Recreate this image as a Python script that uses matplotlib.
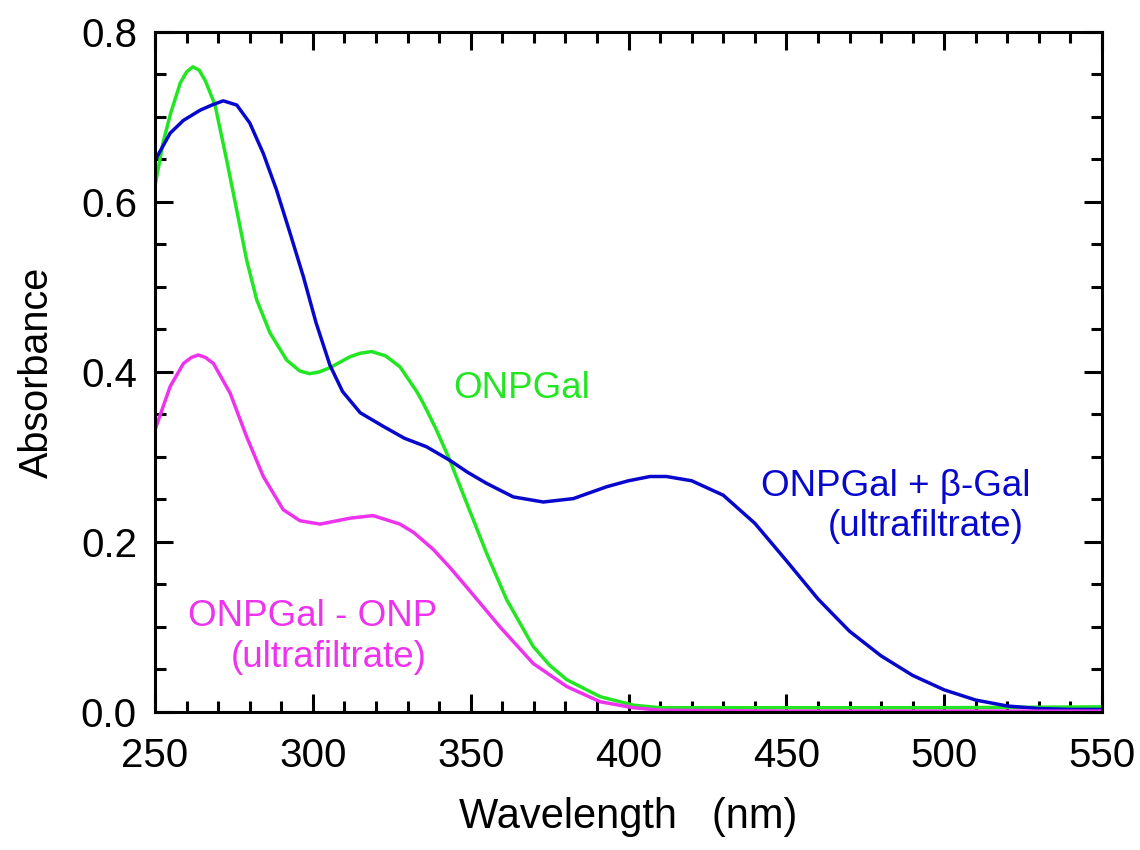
import numpy as np
import matplotlib
matplotlib.use("Agg")
import matplotlib.pyplot as plt
from matplotlib.ticker import MultipleLocator, FormatStrFormatter

plt.rcParams["font.family"] = ["Liberation Sans", "DejaVu Sans"]

# ONPGal
wl_green = [250, 252.6, 255, 258, 260, 262, 264, 266, 269, 272.7, 275.9, 279, 282.2,
            286.4, 291.7, 295.9, 299, 302, 305.4, 311.8, 315, 318.6, 323, 327.6, 332.9,
            335, 339, 343.4, 348.7, 355, 361.4, 369.8, 375, 380.4, 391, 401.5, 410,
            450, 500, 550]
abs_green = [0.619, 0.671, 0.705, 0.74, 0.753, 0.759, 0.755, 0.742, 0.714, 0.649,
             0.59, 0.532, 0.485, 0.446, 0.414, 0.401, 0.398, 0.4, 0.405, 0.418, 0.422,
             0.424, 0.419, 0.406, 0.377, 0.363, 0.333, 0.296, 0.246, 0.187, 0.132,
             0.077, 0.055, 0.038, 0.018, 0.008, 0.005, 0.005, 0.005, 0.006]

# ONPGal + beta-Gal (ultrafiltrate)
wl_blue = [250, 254.8, 259, 264.3, 268, 271.6, 275.9, 280, 284.3, 288.5, 292.8, 297,
           301, 305.4, 309.4, 315, 322.3, 329, 336, 343.4, 349, 355, 363.5, 373,
           382.5, 393.1, 400, 406.8, 412, 420, 430, 440, 450, 460, 470, 480, 490,
           500, 510, 520, 530, 540, 550]
abs_blue = [0.649, 0.681, 0.696, 0.708, 0.714, 0.719, 0.714, 0.693, 0.657, 0.614,
            0.563, 0.512, 0.458, 0.408, 0.377, 0.352, 0.336, 0.322, 0.312, 0.296,
            0.282, 0.269, 0.253, 0.247, 0.251, 0.265, 0.272, 0.277, 0.277, 0.272,
            0.255, 0.222, 0.178, 0.133, 0.095, 0.066, 0.043, 0.026, 0.014, 0.007,
            0.004, 0.003, 0.003]

# ONPGal - ONP (ultrafiltrate)
wl_mag = [250, 254.8, 259, 261.5, 263.7, 266, 268.5, 273.8, 279, 284.3, 290.6, 295.9,
          302.3, 311.8, 319.1, 327.6, 332, 338.2, 343.4, 348.7, 359.3, 369.8, 380.4,
          391, 401.5, 410, 450, 550]
abs_mag = [0.332, 0.383, 0.41, 0.417, 0.42, 0.417, 0.41, 0.375, 0.324, 0.277, 0.238,
           0.225, 0.221, 0.228, 0.231, 0.221, 0.211, 0.191, 0.17, 0.147, 0.1, 0.057,
           0.03, 0.012, 0.005, 0.002, 0.001, 0.001]

fig = plt.figure(figsize=(11.4, 8.5), dpi=100)
ax = fig.add_axes([0.136, 0.1624, 0.8307, 0.8])

line_kw = dict(lw=2.5, solid_joinstyle="round", solid_capstyle="round")
ax.plot(wl_green, abs_green, color="#22e622", **line_kw)
ax.plot(wl_blue, abs_blue, color="#0808cc", **line_kw)
ax.plot(wl_mag, abs_mag, color="#ee33ee", **line_kw)

ax.set_xlim(250, 550)
ax.set_ylim(0, 0.8)
ax.xaxis.set_major_locator(MultipleLocator(50))
ax.xaxis.set_minor_locator(MultipleLocator(10))
ax.yaxis.set_major_locator(MultipleLocator(0.2))
ax.yaxis.set_minor_locator(MultipleLocator(0.05))
ax.yaxis.set_major_formatter(FormatStrFormatter("%.1f"))
ax.tick_params(which="both", direction="in", top=True, right=True, width=2.2,
               labelsize=29, colors="black")
ax.tick_params(axis="x", which="major", length=13, pad=18)
ax.tick_params(axis="y", which="major", length=13, pad=13)
ax.tick_params(which="minor", length=8)
for s in ax.spines.values():
    s.set_linewidth(2.2)

ax.set_xlabel("Wavelength   (nm)", fontsize=30, labelpad=16)
ax.set_ylabel("Absorbance", fontsize=28.5, labelpad=18)

ax.text(344.5, 0.381, "ONPGal", color="#22e622", fontsize=26.5, va="center")
ax.text(442, 0.265, "ONPGal + β-Gal", color="#0808cc", fontsize=26.5, va="center")
ax.text(463, 0.218, "(ultrafiltrate)", color="#0808cc", fontsize=26.5, va="center")
ax.text(260.5, 0.112, "ONPGal - ONP", color="#ee33ee", fontsize=26.5, va="center")
ax.text(274, 0.064, "(ultrafiltrate)", color="#ee33ee", fontsize=26.5, va="center")

fig.savefig("out.png", dpi=100)
